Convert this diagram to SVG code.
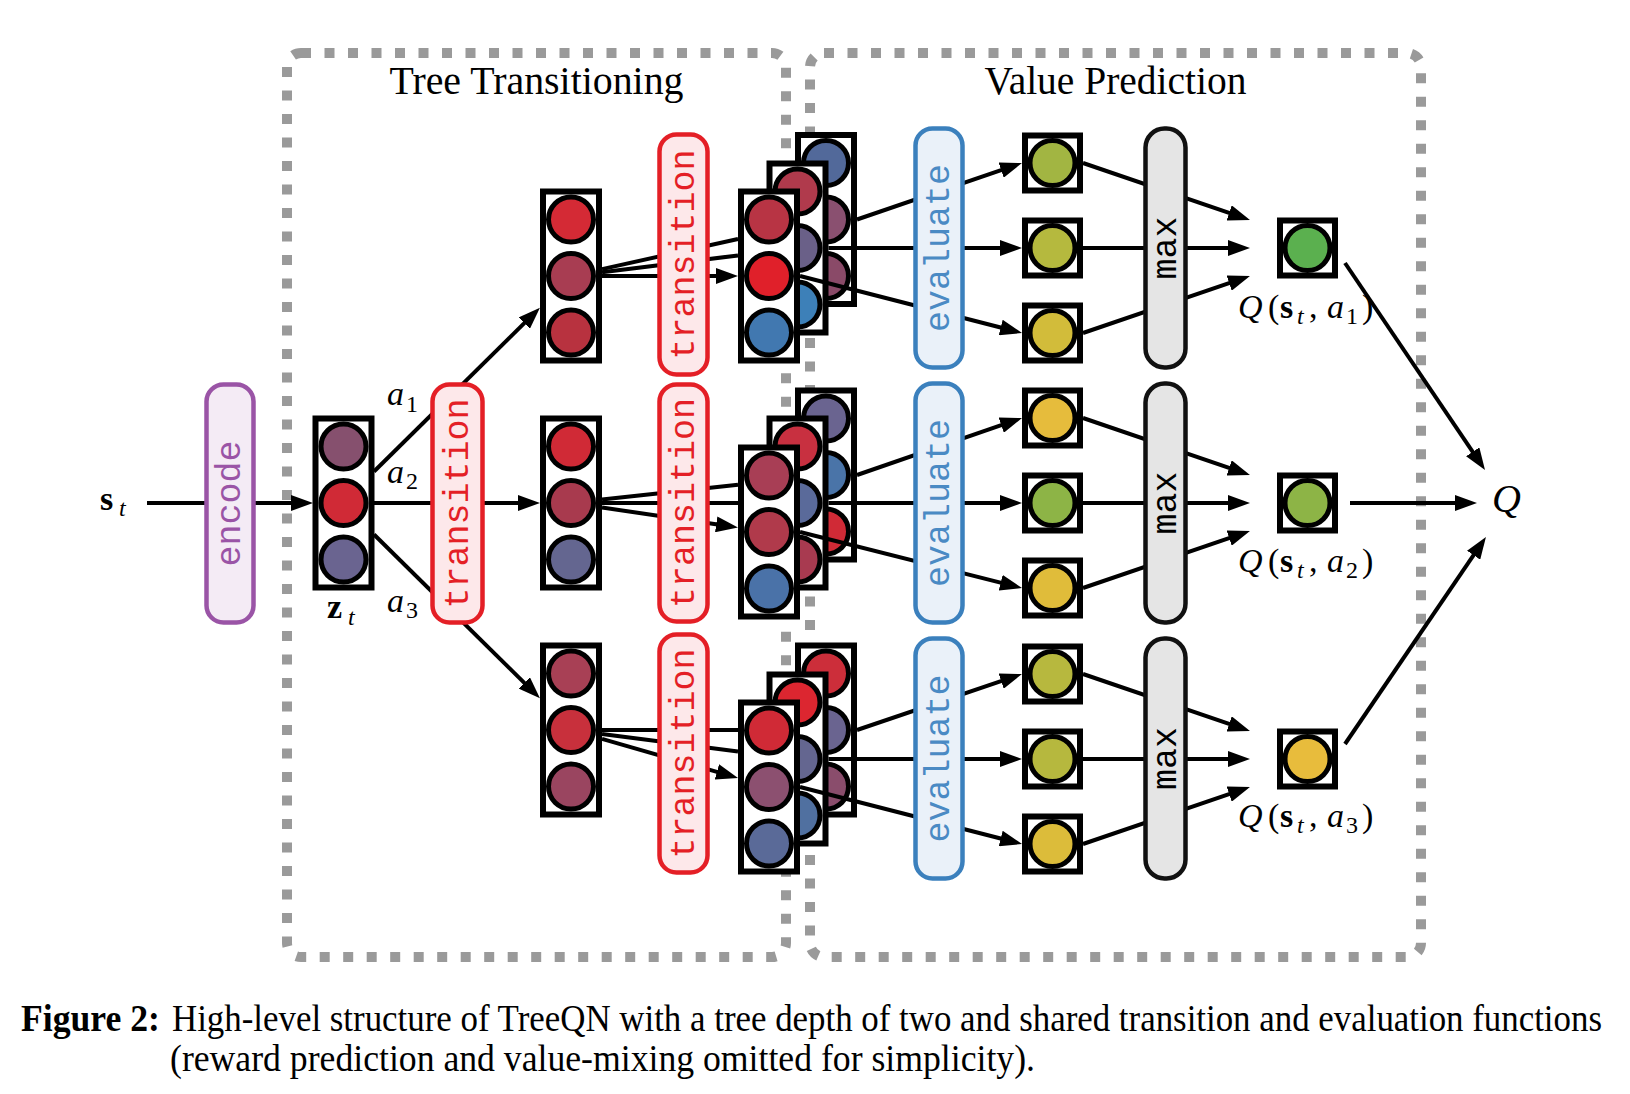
<svg xmlns="http://www.w3.org/2000/svg" width="1630" height="1094" viewBox="0 0 1630 1094">
<style>
.frame{fill:none;stroke:#9a9a9a;stroke-width:10;stroke-dasharray:10 13.5}
.title{font-family:"Liberation Serif","Times New Roman",serif;font-size:41px;fill:#000}
.lay rect{fill:#fff;stroke:#000;stroke-width:6}
.lay circle{stroke:#000;stroke-width:5}
.conn line{stroke:#000;stroke-width:4;fill:none}
.arr{marker-end:url(#ah)}
.op{stroke-width:4.5}
.enc{fill:#f4ebf5;stroke:#9a54a6}
.tr{fill:#fde8ea;stroke:#e41f26}
.ev{fill:#eaf1f9;stroke:#3b80bd}
.mx{fill:#e5e5e5;stroke:#111}
.mono{font-family:"Courier New","Liberation Mono",monospace;font-size:35px;text-anchor:middle}
.math{font-family:"Liberation Serif","Times New Roman",serif;fill:#000}
.it{font-style:italic}
.bf{font-weight:bold}
.cap{font-family:"Liberation Serif","Times New Roman",serif;font-size:33px;fill:#000}
</style>
<defs>
<marker id="ah" markerUnits="userSpaceOnUse" viewBox="0 0 22 16" refX="10" refY="8" markerWidth="22" markerHeight="16" orient="auto"><path d="M0,0 L22,8 L0,16 Z" fill="#000"/></marker>
</defs>
<rect width="1630" height="1094" fill="#fff"/>

<g id="frame-tree"><rect class="frame" x="287" y="53" width="499" height="904" rx="14"/><text class="title" x="536.5" y="94" text-anchor="middle" textLength="294" lengthAdjust="spacingAndGlyphs">Tree Transitioning</text></g>
<g id="frame-value"><rect class="frame" x="810" y="53" width="611" height="904" rx="14"/><text class="title" x="1115.5" y="94" text-anchor="middle" textLength="262" lengthAdjust="spacingAndGlyphs">Value Prediction</text></g>

<!-- state columns -->
<g id="z_t" class="lay" transform="translate(343.5,503)"><rect x="-28" y="-84.5" width="56" height="169"/><circle cy="-56.5" r="22.5" fill="#86506e"/><circle r="22.5" fill="#d02a36"/><circle cy="56.5" r="22.5" fill="#6a6490"/></g>

<g id="s1" class="lay" transform="translate(571,276)"><rect x="-28" y="-84.5" width="56" height="169"/><circle cy="-56.5" r="22.5" fill="#d42a35"/><circle r="22.5" fill="#a83d52"/><circle cy="56.5" r="22.5" fill="#b8323f"/></g>
<g id="s2" class="lay" transform="translate(571,503)"><rect x="-28" y="-84.5" width="56" height="169"/><circle cy="-56.5" r="22.5" fill="#d02a36"/><circle r="22.5" fill="#a83a4e"/><circle cy="56.5" r="22.5" fill="#646690"/></g>
<g id="s3" class="lay" transform="translate(571,730)"><rect x="-28" y="-84.5" width="56" height="169"/><circle cy="-56.5" r="22.5" fill="#a84055"/><circle r="22.5" fill="#c8303c"/><circle cy="56.5" r="22.5" fill="#9a4560"/></g>

<g id="stack1">
<g id="s1-back" class="lay" transform="translate(826,219.5)"><rect x="-28" y="-84.5" width="56" height="169"/><circle cy="-56.5" r="22.5" fill="#52699a"/><circle r="22.5" fill="#8a5070"/><circle cy="56.5" r="22.5" fill="#8a4a68"/></g>
<g id="s1-mid" class="lay" transform="translate(797.5,248)"><rect x="-28" y="-84.5" width="56" height="169"/><circle cy="-56.5" r="22.5" fill="#b03a4c"/><circle r="22.5" fill="#6a6088"/><circle cy="56.5" r="22.5" fill="#3d80b8"/></g>
<g id="s1-front" class="lay" transform="translate(769,276)"><rect x="-28" y="-84.5" width="56" height="169"/><circle cy="-56.5" r="22.5" fill="#b83444"/><circle r="22.5" fill="#e0202a"/><circle cy="56.5" r="22.5" fill="#4178b0"/></g>
</g>
<g id="stack2">
<g id="s2-back" class="lay" transform="translate(826,475)"><rect x="-28" y="-84.5" width="56" height="169"/><circle cy="-56.5" r="22.5" fill="#6a6490"/><circle r="22.5" fill="#4a74a8"/><circle cy="56.5" r="22.5" fill="#d02a36"/></g>
<g id="s2-mid" class="lay" transform="translate(797.5,503)"><rect x="-28" y="-84.5" width="56" height="169"/><circle cy="-56.5" r="22.5" fill="#c83040"/><circle r="22.5" fill="#5a6a9a"/><circle cy="56.5" r="22.5" fill="#a83a50"/></g>
<g id="s2-front" class="lay" transform="translate(769,532)"><rect x="-28" y="-84.5" width="56" height="169"/><circle cy="-56.5" r="22.5" fill="#a83e55"/><circle r="22.5" fill="#b03a4b"/><circle cy="56.5" r="22.5" fill="#4a72a8"/></g>
</g>
<g id="stack3">
<g id="s3-back" class="lay" transform="translate(826,730)"><rect x="-28" y="-84.5" width="56" height="169"/><circle cy="-56.5" r="22.5" fill="#cc2e3a"/><circle r="22.5" fill="#6a6490"/><circle cy="56.5" r="22.5" fill="#8a4d6c"/></g>
<g id="s3-mid" class="lay" transform="translate(797.5,759)"><rect x="-28" y="-84.5" width="56" height="169"/><circle cy="-56.5" r="22.5" fill="#dc2630"/><circle r="22.5" fill="#646690"/><circle cy="56.5" r="22.5" fill="#5070a0"/></g>
<g id="s3-front" class="lay" transform="translate(769,787)"><rect x="-28" y="-84.5" width="56" height="169"/><circle cy="-56.5" r="22.5" fill="#d02a36"/><circle r="22.5" fill="#8c5070"/><circle cy="56.5" r="22.5" fill="#5a6a98"/></g>
</g>

<!-- value nodes -->
<g id="v11" class="lay" transform="translate(1052.5,163)"><rect x="-27.5" y="-27.5" width="55" height="55"/><circle r="22.5" fill="#a2b542"/></g>
<g id="v12" class="lay" transform="translate(1052.5,248)"><rect x="-27.5" y="-27.5" width="55" height="55"/><circle r="22.5" fill="#b5b93e"/></g>
<g id="v13" class="lay" transform="translate(1052.5,333)"><rect x="-27.5" y="-27.5" width="55" height="55"/><circle r="22.5" fill="#d2bc3a"/></g>
<g id="v21" class="lay" transform="translate(1052.5,418)"><rect x="-27.5" y="-27.5" width="55" height="55"/><circle r="22.5" fill="#e6bc3c"/></g>
<g id="v22" class="lay" transform="translate(1052.5,503)"><rect x="-27.5" y="-27.5" width="55" height="55"/><circle r="22.5" fill="#8db446"/></g>
<g id="v23" class="lay" transform="translate(1052.5,588)"><rect x="-27.5" y="-27.5" width="55" height="55"/><circle r="22.5" fill="#e0bc3a"/></g>
<g id="v31" class="lay" transform="translate(1052.5,674)"><rect x="-27.5" y="-27.5" width="55" height="55"/><circle r="22.5" fill="#b7b83e"/></g>
<g id="v32" class="lay" transform="translate(1052.5,759)"><rect x="-27.5" y="-27.5" width="55" height="55"/><circle r="22.5" fill="#b6b83e"/></g>
<g id="v33" class="lay" transform="translate(1052.5,844)"><rect x="-27.5" y="-27.5" width="55" height="55"/><circle r="22.5" fill="#dcbc3a"/></g>

<g id="q1" class="lay" transform="translate(1307.5,248)"><rect x="-27.5" y="-27.5" width="55" height="55"/><circle r="22.5" fill="#5bb04f"/></g>
<g id="q2" class="lay" transform="translate(1307.5,503)"><rect x="-27.5" y="-27.5" width="55" height="55"/><circle r="22.5" fill="#8db446"/></g>
<g id="q3" class="lay" transform="translate(1307.5,759)"><rect x="-27.5" y="-27.5" width="55" height="55"/><circle r="22.5" fill="#e8bc3c"/></g>

<!-- connectors -->
<g id="connectors" class="conn">
<line class="arr" x1="147" y1="503" x2="301" y2="503"/>
<line class="arr" x1="374" y1="503" x2="528" y2="503"/>
<line class="arr" x1="374" y1="471.5" x2="531.4" y2="316.1"/>
<line class="arr" x1="374" y1="534.5" x2="531.4" y2="689.9"/>

<line class="arr" x1="602" y1="276" x2="726" y2="276"/>
<line x1="602" y1="272.2" x2="738" y2="255.4"/>
<line x1="602" y1="269.1" x2="738" y2="239"/>
<line class="arr" x1="602" y1="507.5" x2="726.1" y2="525.8"/>
<line x1="602" y1="503" x2="738" y2="503"/>
<line x1="602" y1="499.6" x2="738" y2="484.7"/>
<line class="arr" x1="602" y1="738.9" x2="726.5" y2="774.7"/>
<line x1="602" y1="734" x2="738" y2="751.4"/>
<line x1="602" y1="730" x2="738" y2="730"/>

<line class="arr" x1="857" y1="219.5" x2="1010.6" y2="166.9"/>
<line class="arr" x1="828.5" y1="248" x2="1010" y2="248"/>
<line class="arr" x1="800" y1="276" x2="1010.4" y2="330"/>
<line class="arr" x1="857" y1="475" x2="1010.7" y2="421.9"/>
<line class="arr" x1="828.5" y1="503" x2="1010" y2="503"/>
<line class="arr" x1="800" y1="532" x2="1010.4" y2="585.1"/>
<line class="arr" x1="857" y1="730" x2="1010.6" y2="677.9"/>
<line class="arr" x1="828.5" y1="759" x2="1010" y2="759"/>
<line class="arr" x1="800" y1="787" x2="1010.4" y2="841"/>

<line class="arr" x1="1083" y1="163" x2="1238.6" y2="216.1"/>
<line class="arr" x1="1083" y1="248" x2="1238" y2="248"/>
<line class="arr" x1="1083" y1="333" x2="1238.6" y2="279.9"/>
<line class="arr" x1="1083" y1="418" x2="1238.6" y2="471.1"/>
<line class="arr" x1="1083" y1="503" x2="1238" y2="503"/>
<line class="arr" x1="1083" y1="588" x2="1238.6" y2="534.9"/>
<line class="arr" x1="1083" y1="674" x2="1238.6" y2="727.1"/>
<line class="arr" x1="1083" y1="759" x2="1238" y2="759"/>
<line class="arr" x1="1083" y1="844" x2="1238.6" y2="790.9"/>

<line class="arr" x1="1345" y1="263" x2="1478.3" y2="460.1"/>
<line class="arr" x1="1350" y1="503" x2="1465" y2="503"/>
<line class="arr" x1="1345" y1="744" x2="1479.2" y2="546.9"/>
</g>

<!-- operator boxes -->
<g id="encode"><rect class="op enc" x="206.5" y="384.5" width="47" height="238" rx="17"/><text class="mono" fill="#9a54a6" transform="translate(240,503.5) rotate(-90)">encode</text></g>
<g id="transition-1"><rect class="op tr" x="432.5" y="384.5" width="50" height="238" rx="17"/><text class="mono" fill="#e41f26" transform="translate(467.5,503.5) rotate(-90)">transition</text></g>
<g id="transition-2a"><rect class="op tr" x="659.5" y="134.5" width="48" height="240" rx="17"/><text class="mono" fill="#e41f26" transform="translate(693.5,254.5) rotate(-90)">transition</text></g>
<g id="transition-2b"><rect class="op tr" x="659.5" y="384.5" width="48" height="237" rx="17"/><text class="mono" fill="#e41f26" transform="translate(693.5,503) rotate(-90)">transition</text></g>
<g id="transition-2c"><rect class="op tr" x="659.5" y="634.5" width="48" height="238" rx="17"/><text class="mono" fill="#e41f26" transform="translate(693.5,753.5) rotate(-90)">transition</text></g>
<g id="evaluate-1"><rect class="op ev" x="915.5" y="128.5" width="47" height="239" rx="17"/><text class="mono" fill="#4a8ac4" transform="translate(949,248) rotate(-90)">evaluate</text></g>
<g id="evaluate-2"><rect class="op ev" x="915.5" y="383.5" width="47" height="239" rx="17"/><text class="mono" fill="#4a8ac4" transform="translate(949,503) rotate(-90)">evaluate</text></g>
<g id="evaluate-3"><rect class="op ev" x="915.5" y="638.5" width="47" height="240" rx="17"/><text class="mono" fill="#4a8ac4" transform="translate(949,758.5) rotate(-90)">evaluate</text></g>
<g id="max-1"><rect class="op mx" x="1145.5" y="128.5" width="40" height="239" rx="19"/><text class="mono" fill="#000" transform="translate(1175.5,248) rotate(-90)">max</text></g>
<g id="max-2"><rect class="op mx" x="1145.5" y="383.5" width="40" height="239" rx="19"/><text class="mono" fill="#000" transform="translate(1175.5,503) rotate(-90)">max</text></g>
<g id="max-3"><rect class="op mx" x="1145.5" y="638.5" width="40" height="240" rx="19"/><text class="mono" fill="#000" transform="translate(1175.5,758.5) rotate(-90)">max</text></g>

<!-- labels -->
<g id="labels" class="math">
<text font-size="34"><tspan class="bf" x="100" y="510">s</tspan><tspan class="it" font-size="24" x="119" y="516">t</tspan></text>
<text font-size="34"><tspan class="bf" x="327" y="618">z</tspan><tspan class="it" font-size="24" x="348" y="625">t</tspan></text>
<text font-size="34"><tspan class="it" x="387" y="405">a</tspan><tspan font-size="24" x="406" y="412">1</tspan></text>
<text font-size="34"><tspan class="it" x="387" y="483">a</tspan><tspan font-size="24" x="406" y="489">2</tspan></text>
<text font-size="34"><tspan class="it" x="387" y="612">a</tspan><tspan font-size="24" x="406" y="618">3</tspan></text>

<text font-size="34"><tspan class="it" x="1238" y="318">Q</tspan><tspan x="1268" y="318">(</tspan><tspan class="bf" x="1280" y="318">s</tspan><tspan class="it" font-size="24" x="1297" y="324">t</tspan><tspan x="1309" y="318">,</tspan><tspan class="it" x="1327" y="318">a</tspan><tspan font-size="24" x="1346" y="324">1</tspan><tspan x="1362" y="318">)</tspan></text>
<text font-size="34"><tspan class="it" x="1238" y="572">Q</tspan><tspan x="1268" y="572">(</tspan><tspan class="bf" x="1280" y="572">s</tspan><tspan class="it" font-size="24" x="1297" y="578">t</tspan><tspan x="1309" y="572">,</tspan><tspan class="it" x="1327" y="572">a</tspan><tspan font-size="24" x="1346" y="578">2</tspan><tspan x="1362" y="572">)</tspan></text>
<text font-size="34"><tspan class="it" x="1238" y="827">Q</tspan><tspan x="1268" y="827">(</tspan><tspan class="bf" x="1280" y="827">s</tspan><tspan class="it" font-size="24" x="1297" y="833">t</tspan><tspan x="1309" y="827">,</tspan><tspan class="it" x="1327" y="827">a</tspan><tspan font-size="24" x="1346" y="833">3</tspan><tspan x="1362" y="827">)</tspan></text>
<text class="it" font-size="40" x="1492" y="512">Q</text>
</g>

<g id="caption">
<text class="cap bf" transform="translate(21,1031) scale(1,1.18)" x="0" y="0" textLength="139" lengthAdjust="spacingAndGlyphs">Figure 2:</text>
<text class="cap" transform="translate(172,1031) scale(1,1.18)" x="0" y="0" textLength="1430" lengthAdjust="spacingAndGlyphs">High-level structure of TreeQN with a tree depth of two and shared transition and evaluation functions</text>
<text class="cap" transform="translate(170,1071) scale(1,1.18)" x="0" y="0" textLength="865" lengthAdjust="spacingAndGlyphs">(reward prediction and value-mixing omitted for simplicity).</text>
</g>
</svg>
